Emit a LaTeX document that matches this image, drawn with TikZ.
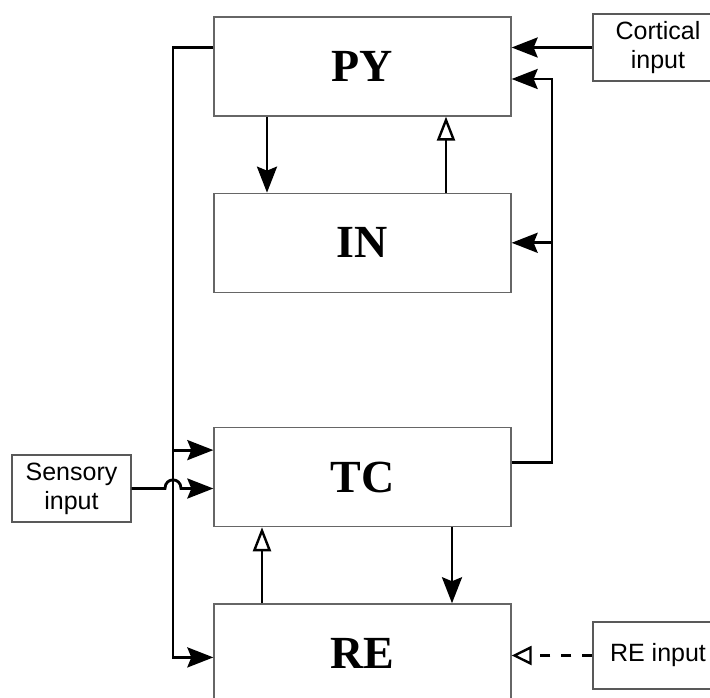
\documentclass[tikz,border=0pt]{standalone}
\usepackage{fontspec}
\setmainfont{Liberation Serif}
\setsansfont{Liberation Sans}
\usetikzlibrary{positioning,arrows.meta}

\begin{document}
\begin{tikzpicture}[
  x=1pt, y=-1pt,
  node distance=76pt,
  box/.style={
    draw=black!60, line width=1.3pt, minimum width=297pt, minimum height=99pt,
    font=\fontsize{46}{46}\selectfont\bfseries
  },
  inputbox/.style={
    draw=black!65, line width=1.2pt, minimum height=67pt, inner sep=0pt,
    align=center, font=\sffamily\fontsize{25}{29}\selectfont
  },
  arr/.style={-{Stealth[length=26pt,width=20pt,inset=4pt]}, line width=2.8pt},
  oarr/.style={-{Triangle[open,length=24pt,width=18pt]}, line width=2.4pt},
  darr/.style={-{Triangle[open,length=20pt,width=19pt]}, line width=2.4pt,
    dash pattern=on 10pt off 11pt}
]
  \clip (0,0) rectangle (710,698);
  \node[box] (PY) at (362.5,66.5) {PY};
  \node[box, below=76pt of PY] (IN) {IN};
  \node[box, below=134pt of IN] (TC) {TC};
  \node[box, below=76pt of TC] (RE) {RE};
  \node[inputbox, minimum width=130pt] (cortical) at (658,47.5) {Cortical\\input};
  \node[inputbox, minimum width=119pt] (sensory) at (71.5,488.5) {Sensory\\input};
  \node[inputbox, minimum width=130pt] (reinput) at (658,655.5) {RE input};
  \coordinate (lbus) at (173,0);
  \coordinate (rbus) at (552,0);
  \coordinate (tcin) at ([yshift=27pt]TC.west);
  \coordinate (pyin) at ([yshift=-12.5pt]PY.east);
  \draw[arr] ([xshift=-95.5pt]PY.south) -- ([xshift=-95.5pt]IN.north);
  \draw[oarr] ([xshift=83.5pt]IN.north) -- ([xshift=83.5pt]PY.south);
  \draw[arr] ([xshift=89.5pt]TC.south) -- ([xshift=89.5pt]RE.north);
  \draw[oarr] ([xshift=-100.5pt]RE.north) -- ([xshift=-100.5pt]TC.south);
  \draw[arr] (cortical.west) -- (PY.east |- cortical.west);
  \draw[arr] (PY.west |- cortical.west) -| ([yshift=-4pt]lbus |- RE.west) -- ([yshift=-4pt]RE.west);
  \draw[arr] (lbus |- tcin) -- (tcin);
  \draw[arr] (sensory.east) -- (165,488.5) .. controls (165,477) and (181,477) .. (181,488.5)
    -- (TC.west |- sensory.east);
  \draw[arr] ([yshift=15pt]TC.east) -| (rbus |- pyin) -- (pyin);
  \draw[arr] (rbus |- IN.east) -- (IN.east);
  \draw[darr] (reinput.west) -- (RE.east |- reinput.west);
\end{tikzpicture}
\end{document}
